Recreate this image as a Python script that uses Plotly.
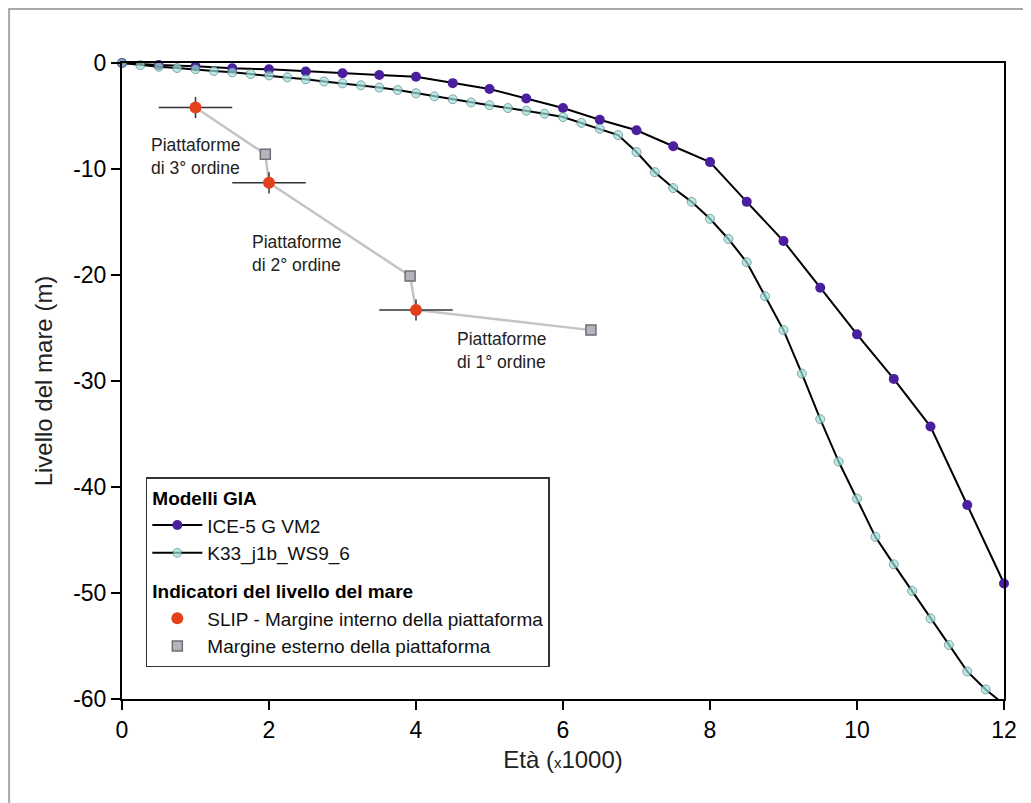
import plotly.graph_objects as go

# ICE-5G VM2 model (age in ka, sea level in m)
ice_age = [0, 0.5, 1.0, 1.5, 2.0, 2.5, 3.0, 3.5, 4.0, 4.5, 5.0, 5.5, 6.0,
           6.5, 7.0, 7.5, 8.0, 8.5, 9.0, 9.5, 10.0, 10.5, 11.0, 11.5, 12.0]
ice_level = [0, -0.2, -0.3, -0.5, -0.6, -0.8, -0.97, -1.13, -1.3, -1.9, -2.45, -3.35, -4.25,
             -5.35, -6.35, -7.85, -9.35, -13.1, -16.8, -21.2, -25.6, -29.8, -34.3, -41.7, -49.1]

# K33_j1b_WS9_6 model
k33_age = [0, 0.25, 0.5, 0.75, 1.0, 1.25, 1.5, 1.75, 2.0, 2.25, 2.5, 2.75, 3.0,
           3.25, 3.5, 3.75, 4.0, 4.25, 4.5, 4.75, 5.0, 5.25, 5.5, 5.75, 6.0,
           6.25, 6.5, 6.75, 7.0, 7.25, 7.5, 7.75, 8.0, 8.25, 8.5, 8.75, 9.0,
           9.25, 9.5, 9.75, 10.0, 10.25, 10.5, 10.75, 11.0, 11.25, 11.5, 11.75, 12.0]
k33_level = [0, -0.2, -0.35, -0.47, -0.58, -0.75, -0.88, -1.04, -1.17, -1.35, -1.54, -1.74, -1.92,
             -2.1, -2.32, -2.55, -2.85, -3.15, -3.42, -3.72, -3.98, -4.25, -4.5, -4.78, -5.1,
             -5.65, -6.2, -6.8, -8.4, -10.3, -11.8, -13.1, -14.7, -16.6, -18.8, -22.0, -25.2,
             -29.3, -33.6, -37.6, -41.1, -44.7, -47.3, -49.8, -52.4, -54.9, -57.4, -59.1, -60.5]

# SLIP - inner platform margin, with uncertainties
slip_age = [1.0, 2.0, 4.0]
slip_level = [-4.2, -11.3, -23.3]
slip_age_err = [0.5, 0.5, 0.5]
slip_level_err = [1.0, 1.0, 1.0]

# outer platform margin
outer_age = [1.95, 3.92, 6.38]
outer_level = [-8.6, -20.1, -25.2]

# platform labels
platform_labels = ["Piattaforme<br>di 3° ordine", "Piattaforme<br>di 2° ordine", "Piattaforme<br>di 1° ordine"]
label_age = [0.37, 1.74, 4.53]
label_level = [-6.6, -15.8, -24.9]

x_ticks = [0, 2, 4, 6, 8, 10, 12]
y_ticks = [0, -10, -20, -30, -40, -50, -60]
y_tick_text = ["0", "-10", "-20", "-30", "-40", "-50", "-60"]

FONT = "Liberation Sans, Arial, sans-serif"

# gray path linking inner and outer margins
path_age = []
path_level = []
for a, l, oa, ol in zip(slip_age, slip_level, outer_age, outer_level):
    path_age += [a, oa]
    path_level += [l, ol]

fig = go.Figure()

fig.add_trace(go.Scatter(
    x=ice_age, y=ice_level, mode='lines+markers', name='ICE-5 G VM2',
    line=dict(color='black', width=2),
    marker=dict(color='#4a1f9e', size=10),
    legendgroup='gia', legendgrouptitle=dict(text='<b>Modelli GIA</b>'),
    cliponaxis=False))

k33_sizes = [9] * (len(k33_age) - 1) + [0]
fig.add_trace(go.Scatter(
    x=k33_age, y=k33_level, mode='lines+markers', name='K33_j1b_WS9_6',
    line=dict(color='black', width=2),
    marker=dict(color='#9fe0dc', size=k33_sizes, line=dict(color='#4d7f80', width=1)),
    legendgroup='gia', cliponaxis=False))

fig.add_trace(go.Scatter(
    x=path_age, y=path_level, mode='lines', showlegend=False,
    line=dict(color='#c4c4c4', width=2.5)))

fig.add_trace(go.Scatter(
    x=slip_age, y=slip_level, mode='markers', name='SLIP - Margine interno della piattaforma',
    marker=dict(color='#e4401b', size=12),
    error_x=dict(type='data', array=slip_age_err, color='#333333', thickness=1.5, width=0),
    error_y=dict(type='data', array=slip_level_err, color='#333333', thickness=1.5, width=0),
    legendgroup='ind', legendgrouptitle=dict(text='<b>Indicatori del livello del mare</b>')))

fig.add_trace(go.Scatter(
    x=outer_age, y=outer_level, mode='markers', name='Margine esterno della piattaforma',
    marker=dict(color='#b4b4bc', size=10, symbol='square', line=dict(color='#6e6e74', width=1.5)),
    legendgroup='ind'))

for t, a, l in zip(platform_labels, label_age, label_level):
    fig.add_annotation(x=a, y=l, text=t, showarrow=False, xanchor='left', yanchor='top',
                       align='left', font=dict(size=17.5, color='#222222', family=FONT))

# outer frame of the figure
fig.add_shape(type='rect', xref='paper', yref='paper', x0=-0.128, x1=1.2, y0=-0.4, y1=1.085,
              line=dict(color='#a8a8a8', width=2))

fig.update_xaxes(
    range=[0, 12], tickvals=x_ticks, showline=True, linecolor='black', linewidth=2,
    mirror=True, ticks='outside', ticklen=9, tickwidth=2, tickcolor='black',
    showgrid=False, zeroline=False, tickfont=dict(size=23, color='black', family=FONT),
    title=dict(text="Età (<span style='font-size:15px'>x</span>1000)",
               font=dict(size=24, color='#222222', family=FONT), standoff=10))
fig.update_yaxes(
    range=[-60, 0], tickvals=y_ticks, ticktext=y_tick_text, showline=True, linecolor='black',
    linewidth=2, mirror=True, ticks='outside', ticklen=9, tickwidth=2, tickcolor='black',
    showgrid=False, zeroline=False, tickfont=dict(size=23, color='black', family=FONT),
    title=dict(text='Livello del mare (m)', font=dict(size=24, color='#222222', family=FONT),
               standoff=14))

# page body adds an 8px margin, so the figure is 8px smaller than the window
fig.update_layout(
    width=1023, height=795,
    margin=dict(l=114, r=27, t=55, b=104),
    plot_bgcolor='white', paper_bgcolor='white',
    font=dict(family=FONT, color='black'),
    legend=dict(x=0.027, y=0.349, xanchor='left', yanchor='top',
                bgcolor='white', bordercolor='#333333', borderwidth=1.5,
                font=dict(size=19, family=FONT, color='#111111'),
                grouptitlefont=dict(size=19, family=FONT, color='black'),
                itemwidth=50, tracegroupgap=10, traceorder='grouped'),
)

fig.write_html("out.html")
